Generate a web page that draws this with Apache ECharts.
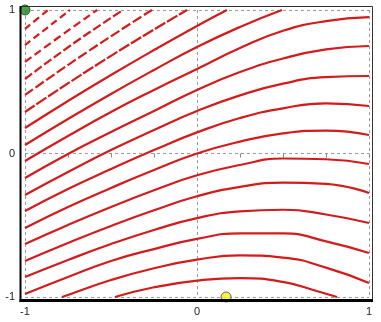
<!DOCTYPE html>
<html>
<head>
<meta charset="utf-8">
<script src="https://cdn.jsdelivr.net/npm/echarts@6/dist/echarts.min.js"></script>
<style>
html,body{margin:0;padding:0;background:#fff;}
#chart{width:381px;height:322px;}
</style>
</head>
<body>
<div id="chart"></div>
<script>
// Axis ticks
const xTicks = [-1, 0, 1];
const yTicks = [-1, 0, 1];

// Contour lines: [x, y] points
const contourT1 = [[-1, 0.868], [-0.866, 1]];
const contourT2 = [[-1, 0.756], [-0.738, 1]];
const contourT3 = [[-1, 0.638], [-0.79, 0.822], [-0.581, 1]];
const contourT4 = [[-1, 0.519], [-0.715, 0.77], [-0.43, 1]];
const contourT5 = [[-1, 0.408], [-0.634, 0.711], [-0.262, 1]];
const contourT6 = [[-1, 0.289], [-0.529, 0.659], [-0.058, 1]];
const contourT7 = [[-1, 0.178], [-0.75, 0.366], [-0.5, 0.547], [-0.25, 0.721], [0, 0.889], [0.174, 1]];
const contourT8 = [[-1, 0.059], [-0.75, 0.240], [-0.5, 0.415], [-0.25, 0.582], [0, 0.742], [0.25, 0.882], [0.494, 1]];
const contourR1 = [[-1, -0.052], [-0.75, 0.122], [-0.5, 0.289], [-0.25, 0.443], [0, 0.589], [0.25, 0.735], [0.5, 0.855], [0.75, 0.923], [1, 0.951]];
const contourR2 = [[-1, -0.171], [-0.75, -0.003], [-0.5, 0.150], [-0.25, 0.296], [0, 0.443], [0.25, 0.568], [0.5, 0.662], [0.75, 0.725], [1, 0.749]];
const contourR3 = [[-1, -0.289], [-0.75, -0.129], [-0.5, 0.024], [-0.25, 0.164], [0, 0.296], [0.25, 0.405], [0.5, 0.487], [0.75, 0.532], [1, 0.540]];
const contourR4 = [[-1, -0.401], [-0.75, -0.247], [-0.5, -0.108], [-0.25, 0.024], [0, 0.147], [0.25, 0.247], [0.5, 0.315], [0.75, 0.350], [1, 0.331]];
const contourR5 = [[-1, -0.519], [-0.75, -0.373], [-0.5, -0.240], [-0.25, -0.115], [0, 0.0], [0.25, 0.083], [0.5, 0.140], [0.75, 0.160], [1, 0.129]];
const contourR6 = [[-1, -0.631], [-0.75, -0.498], [-0.5, -0.373], [-0.25, -0.256], [0, -0.152], [0.25, -0.080], [0.5, -0.035], [0.75, -0.040], [1, -0.073]];
const contourR7 = [[-1, -0.749], [-0.75, -0.624], [-0.5, -0.505], [-0.25, -0.396], [0, -0.298], [0.25, -0.233], [0.5, -0.203], [0.75, -0.212], [1, -0.275]];
const contourR8 = [[-1, -0.861], [-0.75, -0.742], [-0.5, -0.631], [-0.25, -0.533], [0, -0.450], [0.25, -0.403], [0.5, -0.392], [0.75, -0.425], [1, -0.484]];
const contourR9 = [[-1, -0.979], [-0.75, -0.861], [-0.5, -0.749], [-0.25, -0.666], [0, -0.595], [0.25, -0.556], [0.5, -0.556], [0.75, -0.612], [1, -0.693]];
const contourR10 = [[-0.785, -1], [-0.75, -0.986], [-0.5, -0.882], [-0.25, -0.800], [0, -0.740], [0.25, -0.710], [0.5, -0.725], [0.75, -0.795], [1, -0.902]];
const contourB1 = [[-0.477, -1], [-0.25, -0.932], [0, -0.886], [0.25, -0.868], [0.5, -0.895], [0.715, -0.965], [0.814, -1]];

// Marked points
const startPoint = [[-1, 1]];
const endPoint = [[0.169, -1]];

const contours = [contourT1, contourT2, contourT3, contourT4, contourT5, contourT6, contourT7, contourT8,
  contourR1, contourR2, contourR3, contourR4, contourR5, contourR6, contourR7, contourR8, contourR9, contourR10, contourB1];

const dashStyles = [[7, 4], [7, 4], [8, 4], [9, 3], [10, 3], [12, 2]];
const red = '#d41b1b';

const series = contours.map((c, i) => ({
  type: 'line',
  data: c,
  smooth: 0.5,
  symbol: 'none',
  clip: false,
  silent: true,
  lineStyle: { color: red, width: 2.2, type: i < dashStyles.length ? dashStyles[i] : 'solid' },
  z: 3
}));

series.push({
  type: 'scatter', data: startPoint, symbol: 'circle', symbolSize: 10, clip: false,
  itemStyle: { color: '#1e8a1e', borderColor: '#0b3d0b', borderWidth: 1 }, z: 5
});
series.push({
  type: 'scatter', data: endPoint, symbol: 'circle', symbolSize: 10, clip: false,
  itemStyle: { color: '#f2f21a', borderColor: '#444', borderWidth: 1 }, z: 5
});

const chart = echarts.init(document.getElementById('chart'), null, { renderer: 'canvas' });
chart.setOption({
  animation: false,
  backgroundColor: '#fff',
  grid: { left: 25, right: 12, top: 10, bottom: 25 },
  xAxis: {
    type: 'value', min: xTicks[0], max: xTicks[xTicks.length - 1], interval: 1,
    offset: 4,
    axisLine: { show: false },
    axisTick: { show: true, length: 4, lineStyle: { color: '#888' } },
    minorTick: { show: true, splitNumber: 4, length: 4, lineStyle: { color: '#888' } },
    axisLabel: { margin: 5, color: '#222', fontSize: 11, fontFamily: 'Liberation Sans' },
    splitLine: { show: true, lineStyle: { color: '#9a9a9a', type: [3, 3], width: 1 } }
  },
  yAxis: {
    type: 'value', min: yTicks[0], max: yTicks[yTicks.length - 1], interval: 1,
    offset: 4,
    axisLine: { show: false },
    axisTick: { show: false },
    axisLabel: { margin: 6, color: '#222', fontSize: 11, fontFamily: 'Liberation Sans' },
    splitLine: { show: true, lineStyle: { color: '#9a9a9a', type: [3, 3], width: 1 } }
  },
  graphic: [
    { type: 'line', shape: { x1: 21, y1: 6.5, x2: 372.5, y2: 6.5 }, style: { stroke: '#333', lineWidth: 1 }, z: 10 },
    { type: 'line', shape: { x1: 372.5, y1: 6.5, x2: 372.5, y2: 301 }, style: { stroke: '#333', lineWidth: 1 }, z: 10 },
    { type: 'line', shape: { x1: 20.5, y1: 6, x2: 20.5, y2: 302 }, style: { stroke: '#000', lineWidth: 2 }, z: 10 },
    { type: 'line', shape: { x1: 19.5, y1: 300.5, x2: 373, y2: 300.5 }, style: { stroke: '#000', lineWidth: 3 }, z: 10 }
  ],
  series: series
});
</script>
</body>
</html>
